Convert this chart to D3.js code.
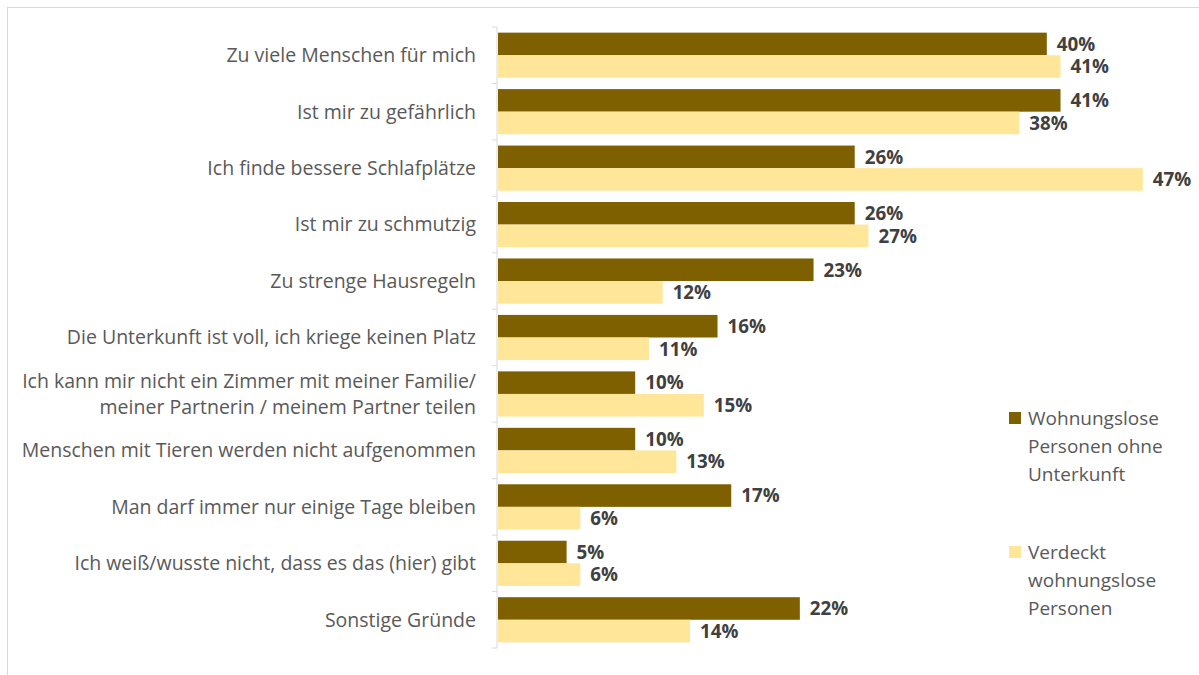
<!DOCTYPE html>
<html><head><meta charset="utf-8">
<script src="https://cdn.jsdelivr.net/npm/d3@7"></script>
<style>body{margin:0;background:#fff;font-family:"Open Sans",sans-serif;}</style>
</head><body><svg id="c" width="1199" height="675"></svg>
<script>
const categories = [
  ["Zu viele Menschen für mich"],
  ["Ist mir zu gefährlich"],
  ["Ich finde bessere Schlafplätze"],
  ["Ist mir zu schmutzig"],
  ["Zu strenge Hausregeln"],
  ["Die Unterkunft ist voll, ich kriege keinen Platz"],
  ["Ich kann mir nicht ein Zimmer mit meiner Familie/", "meiner Partnerin / meinem Partner teilen"],
  ["Menschen mit Tieren werden nicht aufgenommen"],
  ["Man darf immer nur einige Tage bleiben"],
  ["Ich weiß/wusste nicht, dass es das (hier) gibt"],
  ["Sonstige Gründe"]
];
const seriesNames = [
  ["Wohnungslose", "Personen ohne", "Unterkunft"],
  ["Verdeckt", "wohnungslose", "Personen"]
];
const ohneUnterkunft = [40, 41, 26, 26, 23, 16, 10, 10, 17, 5, 22];
const verdeckt = [41, 38, 47, 27, 12, 11, 15, 13, 6, 6, 14];
const colors = ["#7f6000", "#ffe699"];

const svg = d3.select("#c");
svg.append("rect").attr("x",7.5).attr("y",7.5).attr("width",1300).attr("height",700)
  .attr("fill","none").attr("stroke","#d9d9d9");

const keys = categories.map((c,i)=>i);
const y0 = d3.scaleBand().domain(keys).range([27, 648]);
const y1 = d3.scaleBand().domain([0,1]).range([y0.bandwidth()*0.1, y0.bandwidth()*0.9]);
const x = d3.scaleLinear().domain([0, 50]).range([498, 498 + 13.72*50]);
const series = [ohneUnterkunft, verdeckt];

// axis
const axisG = svg.append("g").attr("transform","translate(497,0)");
axisG.append("line").attr("x1",0).attr("x2",0).attr("y1",27).attr("y2",648).attr("stroke","#d9d9d9");
const bounds = keys.map(k=>y0(k)).concat([648]);
axisG.selectAll("line.tk").data(bounds).join("line").attr("class","tk")
  .attr("x1",-5).attr("x2",0).attr("y1",d=>d).attr("y2",d=>d).attr("stroke","#d9d9d9");

// category labels
const lab = svg.append("g");
keys.forEach(k=>{
  const lines = categories[k];
  const cy = y0(k) + y0.bandwidth()/2;
  const lh = 26;
  const t = lab.append("text").attr("text-anchor","end").attr("fill","#595959")
    .attr("font-size","19.5px");
  lines.forEach((ln,j)=>{
    t.append("tspan").attr("x",476).attr("y", cy + (j - (lines.length-1)/2)*lh).attr("dy","0.35em").text(ln);
  });
});

// bars
series.forEach((vals,s)=>{
  const g = svg.append("g");
  g.selectAll("rect").data(vals).join("rect")
    .attr("x", x(0))
    .attr("y",(d,i)=>y0(i)+y1(s))
    .attr("width",d=>x(d)-x(0))
    .attr("height",y1.bandwidth())
    .attr("fill",colors[s]);
  g.selectAll("text").data(vals).join("text")
    .attr("x",d=>x(d)+10)
    .attr("y",(d,i)=>y0(i)+y1(s)+y1.bandwidth()/2)
    .attr("dy","0.36em")
    .attr("fill","#404040").attr("font-weight","bold").attr("font-size","18.8px")
    .text(d=>d+"%");
});

// legend
const legY = [418, 552];
seriesNames.forEach((nm,s)=>{
  const g = svg.append("g");
  g.append("rect").attr("x",1009).attr("y",legY[s]-6).attr("width",12).attr("height",12).attr("fill",colors[s]);
  const t = g.append("text").attr("fill","#595959").attr("font-size","19px");
  nm.forEach((ln,j)=>t.append("tspan").attr("x",1028).attr("y",legY[s]+j*28).attr("dy","0.35em").text(ln));
});
</script></body></html>
